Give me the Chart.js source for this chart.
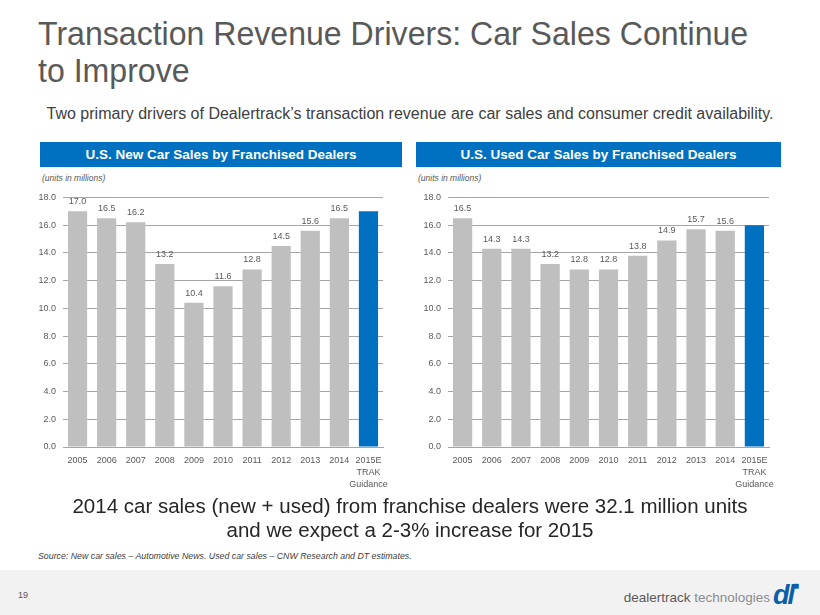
<!DOCTYPE html>
<html>
<head>
<meta charset="utf-8">
<script src="https://cdn.jsdelivr.net/npm/chart.js@4.4.1/dist/chart.umd.min.js"></script>
<style>
  html, body { margin: 0; padding: 0; }
  body { width: 820px; height: 615px; position: relative; background: #fff; overflow: hidden;
         font-family: "Liberation Sans", Arial, sans-serif; }
  .abs { position: absolute; }
  #title { left: 38px; top: 15px; width: 800px; font-size: 33px; line-height: 37px; color: #595959;
           transform: scaleX(0.972); transform-origin: left top; }
  #subtitle { left: 0; width: 820px; top: 105px; text-align: center; font-size: 16px; color: #404040; }
  .hdr { top: 142px; height: 25px; background: #0070c0; color: #fff;
         font-weight: bold; font-size: 13.5px; line-height: 25px; text-align: center; }
  .units { top: 173px; font-size: 8.5px; font-style: italic; color: #595959; }
  .box { top: 185px; height: 320px; }
  #note { left: 0; width: 820px; top: 494px; text-align: center; font-size: 20.5px; line-height: 24px; color: #262626; }
  #source { left: 38px; top: 551px; font-size: 8.8px; font-style: italic; color: #404040; }
  #footer { left: 0; top: 570px; width: 820px; height: 45px; background: #f2f2f2; }
  #page { left: 18px; top: 590px; font-size: 9px; color: #595959; }
  #logo { right: 50px; top: 590px; font-size: 13.5px; color: #595959; }
  #logo .lt { color: #8c8c8c; }
  #mark { left: 773px; top: 580px; font-size: 27px; font-weight: bold; font-style: italic; color: #0b5ea8;
          letter-spacing: -2px; }
</style>
</head>
<body>
<div id="title" class="abs">Transaction Revenue Drivers: Car Sales Continue<br>to Improve</div>
<div id="subtitle" class="abs">Two primary drivers of Dealertrack’s transaction revenue are car sales and consumer credit availability.</div>

<div class="abs hdr" style="left:40px;width:362px;">U.S. New Car Sales by Franchised Dealers</div>
<div class="abs hdr" style="left:416px;width:365px;">U.S. Used Car Sales by Franchised Dealers</div>
<div class="abs units" style="left:42px;">(units in millions)</div>
<div class="abs units" style="left:418px;">(units in millions)</div>

<div class="abs box" style="left:30px;width:365px;"><canvas id="newCars"></canvas></div>
<div class="abs box" style="left:415px;width:366px;"><canvas id="usedCars"></canvas></div>

<div id="note" class="abs">2014 car sales (new + used) from franchise dealers were 32.1 million units<br>and we expect a 2-3% increase for 2015</div>
<div id="source" class="abs">Source: New car sales – Automotive News. Used car sales – CNW Research and DT estimates.</div>

<div id="footer" class="abs"></div>
<div id="page" class="abs">19</div>
<div id="logo" class="abs">dealertrack <span class="lt">technologies</span></div>
<div id="mark" class="abs">dl<span style="font-size:10px;vertical-align:top;">■</span></div>

<script>
// data
const years = ["2005", "2006", "2007", "2008", "2009", "2010", "2011", "2012", "2013", "2014", ["2015E", "TRAK", "Guidance"]];
const newCarSales = [17.0, 16.5, 16.2, 13.2, 10.4, 11.6, 12.8, 14.5, 15.6, 16.5, 17.0];
const usedCarSales = [16.5, 14.3, 14.3, 13.2, 12.8, 12.8, 13.8, 14.9, 15.7, 15.6, 16.0];
const yTicks = [0, 2, 4, 6, 8, 10, 12, 14, 16, 18];

const GREY = "#bfbfbf";
const BLUE = "#0070c0";
const TEXT = "#595959";
const FONT = "'Liberation Sans', Arial, sans-serif";

// value labels above the bars (not on the guidance bar)
const barLabels = {
  id: "barLabels",
  afterDatasetsDraw(chart) {
    const ctx = chart.ctx;
    const meta = chart.getDatasetMeta(0);
    const values = chart.data.datasets[0].data;
    ctx.save();
    ctx.font = "9px " + FONT;
    ctx.fillStyle = TEXT;
    ctx.textAlign = "center";
    ctx.textBaseline = "bottom";
    meta.data.forEach((bar, i) => {
      if (i === values.length - 1) return;
      ctx.fillText(values[i].toFixed(1), bar.x, bar.y - 5);
    });
    ctx.restore();
  },
};

function makeChart(id, values) {
  const colors = values.map((v, i) => (i === values.length - 1 ? BLUE : GREY));
  return new Chart(document.getElementById(id), {
    type: "bar",
    data: {
      labels: years,
      datasets: [{ data: values, backgroundColor: colors, barPercentage: 0.66, categoryPercentage: 1 }],
    },
    options: {
      responsive: true,
      maintainAspectRatio: false,
      animation: false,
      layout: { padding: { top: 11, right: 12, left: 0, bottom: 0 } },
      scales: {
        x: {
          grid: { display: false },
          border: { color: "#a6a6a6" },
          ticks: { color: TEXT, font: { family: FONT, size: 9, lineHeight: 1.3 }, padding: 0, maxRotation: 0, autoSkip: false },
          afterFit: (s) => { s.height = 58; },
        },
        y: {
          min: 0,
          max: 18,
          afterBuildTicks: (s) => { s.ticks = yTicks.map((v) => ({ value: v })); },
          grid: { color: "#a6a6a6", drawTicks: false },
          border: { display: false },
          ticks: { color: TEXT, font: { family: FONT, size: 9 }, padding: 7, callback: (v) => Number(v).toFixed(1) },
          afterFit: (s) => { s.width = 33; },
        },
      },
      plugins: { legend: { display: false }, tooltip: { enabled: false } },
    },
    plugins: [barLabels],
  });
}

makeChart("newCars", newCarSales);
makeChart("usedCars", usedCarSales);
</script>
</body>
</html>
